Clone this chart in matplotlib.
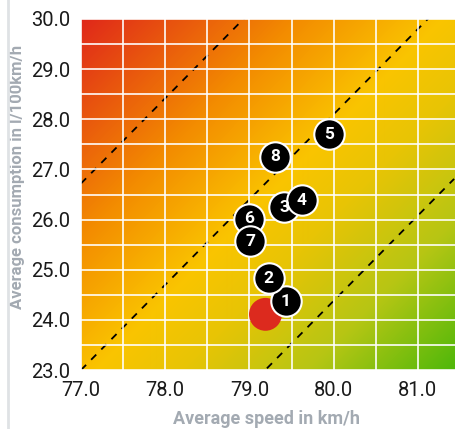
import numpy as np
import matplotlib
matplotlib.use('Agg')
import matplotlib.pyplot as plt
from matplotlib.colors import LinearSegmentedColormap
from matplotlib.lines import Line2D

plt.rcParams['font.family'] = ['Roboto', 'DejaVu Sans']

# --- data ---
labels = ['1', '2', '3', '4', '5', '6', '7', '8']
speed = [79.43, 79.23, 79.41, 79.62, 79.94, 79.00, 79.01, 79.30]
consumption = [24.37, 24.83, 26.25, 26.39, 27.70, 26.02, 25.57, 27.25]
ref_speed = 79.19
ref_consumption = 24.11

# diagonal guide lines: y = 23 + slope*(x-77) + offset
slope = 1.70
offsets = [3.72, 0.0, -3.72]

xmin, xmax = 77.0, 81.43
ymin, ymax = 23.0, 30.0

fig = plt.figure(figsize=(4.6, 4.29), dpi=100)
ax = fig.add_axes([81 / 460, 1 - 370 / 429, 1 - 81 / 460, 351 / 429])

# background gradient (top-left red -> yellow -> bottom-right green)
W, H = 379, 351
xx, yy = np.meshgrid(np.arange(W), np.arange(H))
t = (xx + yy) / (W + H - 2)
stops = [(0.0, (224, 40, 26)), (0.3, (243, 140, 0)), (0.5, (250, 196, 0)),
         (0.62, (232, 196, 5)), (0.8, (182, 198, 20)), (1.0, (80, 184, 10))]
cmap = LinearSegmentedColormap.from_list(
    'bg', [(p, tuple(c / 255 for c in col)) for p, col in stops])
ax.imshow(t, cmap=cmap, extent=[xmin, xmax, ymin, ymax], origin='upper',
          aspect='auto', zorder=0, interpolation='bilinear')

ax.set_xlim(xmin, xmax)
ax.set_ylim(ymin, ymax)
ax.set_xticks(np.arange(77, 81.6, 0.5), minor=True)
ax.set_yticks(np.arange(23, 30.1, 0.5), minor=True)
ax.set_xticks(np.arange(77, 81.1, 1.0))
ax.set_yticks(np.arange(23, 30.1, 1.0))
ax.set_xticklabels([f'{v:.1f}' for v in np.arange(77, 81.1, 1.0)])
ax.set_yticklabels([f'{v:.1f}' for v in np.arange(23, 30.1, 1.0)])
ax.grid(True, which='both', color='white', lw=1.3, alpha=0.9, zorder=1)
ax.set_axisbelow(False)
ax.tick_params(which='both', length=0, labelsize=14.5, colors='#1a1a1a', pad=8)
for s in ax.spines.values():
    s.set_visible(False)

xs = np.array([xmin, xmax])
for off in offsets:
    ax.plot(xs, ymin + slope * (xs - 77) + off, color='black', lw=1.3,
            dashes=(4, 4), zorder=2)

ax.scatter([ref_speed], [ref_consumption], s=560, color='#dc2a1e', zorder=3,
           edgecolors='none')
ax.scatter(speed, consumption, s=480, color='black', edgecolors='white',
           linewidths=1.5, zorder=4)
for lab, xv, yv in zip(labels, speed, consumption):
    ax.text(xv, yv, lab, color='white', fontsize=12.5, fontweight='bold',
            ha='center', va='center', zorder=5)

ax.set_xlabel('Average speed in km/h', fontsize=13, fontweight='bold',
              color='#a3aab2')
ax.xaxis.set_label_coords(0.49, -0.115)
ax.set_ylabel('Average consumption in l/100km/h', fontsize=12,
              fontweight='bold', color='#a3aab2')
ax.yaxis.set_label_coords(-0.148, 0.55)

fig.add_artist(Line2D([8 / 460, 8 / 460], [0, 1], color='#dfe2e5', lw=2))

fig.savefig('out.png', dpi=100)
